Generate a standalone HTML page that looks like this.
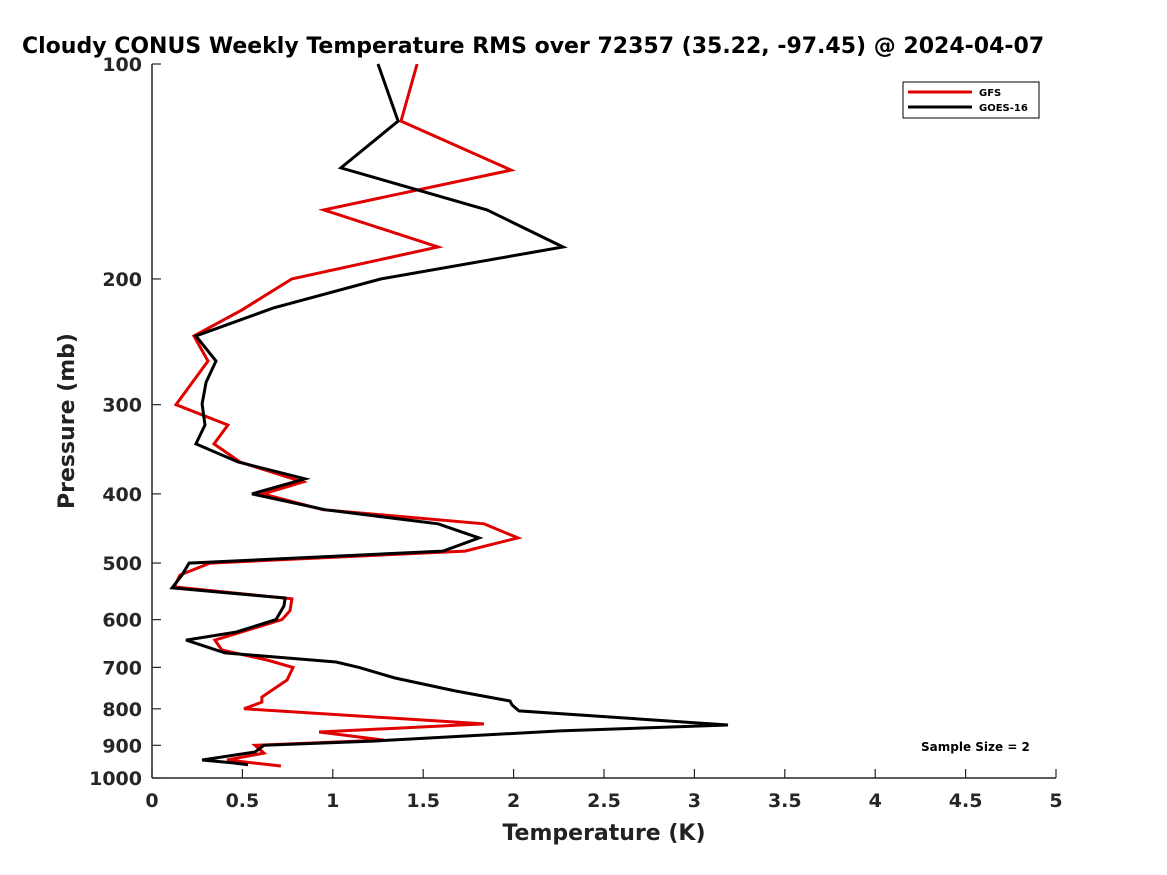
<!DOCTYPE html>
<html><head><meta charset="utf-8"><style>
html,body{margin:0;padding:0;background:#fff;overflow:hidden}
svg{display:block;font-family:"DejaVu Sans","Liberation Sans",sans-serif}
</style></head><body>
<svg id="chart" width="1167" height="875" viewBox="0 0 1167 875" xmlns="http://www.w3.org/2000/svg">
<rect width="1167" height="875" fill="#fff"/>
<text x="22" y="53" font-size="22" font-weight="bold" fill="#000">Cloudy CONUS Weekly Temperature RMS over 72357 (35.22, -97.45) @ 2024-04-07</text>
<g id="axes"></g>
<g id="series"></g>
<g>
<rect x="903" y="82" width="136" height="36" fill="#fff" stroke="#000" stroke-width="1"/>
<line x1="908" y1="92" x2="972" y2="92" stroke="#e00000" stroke-width="3"/>
<text x="979" y="96" font-size="10" font-weight="bold">GFS</text>
<line x1="908" y1="107" x2="972" y2="107" stroke="#000" stroke-width="3"/>
<text x="979" y="111" font-size="10" font-weight="bold">GOES-16</text>
</g>
<text x="921" y="751" font-size="12" font-weight="bold">Sample Size = 2</text>
<text x="604" y="840" font-size="22" font-weight="bold" text-anchor="middle" fill="#222">Temperature (K)</text>
<text transform="translate(74,421) rotate(-90)" font-size="22" font-weight="bold" text-anchor="middle" fill="#222">Pressure (mb)</text>
</svg>
<script>
const xTicks = [0,0.5,1,1.5,2,2.5,3,3.5,4,4.5,5];
const xTickLabels = ["0","0.5","1","1.5","2","2.5","3","3.5","4","4.5","5"];
const yTicks = [100,200,300,400,500,600,700,800,900,1000];
const yTickLabels = ["100","200","300","400","500","600","700","800","900","1000"];
const gfsPressure = [100,120.2,140.8,160.1,180.4,200,221,240.4,260.6,300,320.3,340.5,360.9,385,400,421,440.6,461,481,500,519.6,540,561,583,600,641,662,683.6,700,729,770,783,800,840,862,885,900,922.7,943.6,962];
const gfsTemp = [1.466,1.377,1.986,0.951,1.582,0.774,0.498,0.232,0.310,0.133,0.420,0.343,0.487,0.835,0.614,0.946,1.836,2.024,1.731,0.321,0.155,0.122,0.774,0.763,0.719,0.348,0.387,0.636,0.780,0.747,0.608,0.608,0.509,1.836,0.924,1.283,0.570,0.619,0.415,0.713];
const goesPressure = [100,120.2,139.8,160.1,180.4,200,219.7,240.4,260.6,279,299.3,320.3,340.5,360.9,381,400,421,440.6,461,481,500,519.6,541.7,559.6,574,600,624.6,641,668,688,700,724.4,755,780,790,805.5,843,859,887.7,900,919.6,943.6,952.6,958];
const goesTemp = [1.250,1.361,1.045,1.853,2.273,1.267,0.669,0.243,0.354,0.299,0.277,0.293,0.243,0.476,0.846,0.553,0.957,1.582,1.809,1.609,0.205,0.166,0.111,0.736,0.730,0.686,0.465,0.188,0.404,1.018,1.145,1.344,1.676,1.980,1.991,2.030,3.186,2.257,1.222,0.619,0.570,0.277,0.448,0.531];

const X0=152,X1=1056,Y0=64,Y1=778;
const xs = t => X0 + (t/5)*(X1-X0);
const ys = p => Y0 + Math.log10(p/100)*(Y1-Y0);
const NS="http://www.w3.org/2000/svg";
const axes=document.getElementById('axes');
function mk(tag,attrs,parent){const e=document.createElementNS(NS,tag);for(const k in attrs)e.setAttribute(k,attrs[k]);parent.appendChild(e);return e;}

const yl=mk('line',{x1:X0,y1:Y0,x2:X0,y2:Y1,stroke:'#262626','stroke-width':1.5},axes);


const xl=mk('line',{x1:X0,y1:Y1,x2:X1,y2:Y1,stroke:'#262626','stroke-width':1.5},axes);



xTicks.forEach((t,i)=>{
  const x=xs(t);
  const tk=mk('line',{x1:x,y1:Y1,x2:x,y2:Y1-9,stroke:'#262626','stroke-width':1.2},axes);
  
  
  const tx=mk('text',{x:x,y:807,'font-size':19,'font-weight':'bold','text-anchor':'middle',fill:'#262626'},axes);
  tx.textContent=xTickLabels[i];
  
  
});
yTicks.forEach((p,i)=>{
  const y=ys(p);
  const tk=mk('line',{x1:X0,y1:y,x2:X0+9,y2:y,stroke:'#262626','stroke-width':1.2},axes);
  
  
  const tx=mk('text',{x:142,y:y+7,'font-size':19,'font-weight':'bold','text-anchor':'end',fill:'#262626'},axes);
  tx.textContent=yTickLabels[i];
  
  
});

const series=document.getElementById('series');
function line(P,T){
  return P.map((p,i)=>xs(T[i]).toFixed(1)+','+ys(p).toFixed(1)).join(' ');
}
const g1=mk('polyline',{points:line(gfsPressure,gfsTemp),fill:'none',stroke:'#e00000','stroke-width':3,'stroke-linejoin':'miter'},series);


const g2=mk('polyline',{points:line(goesPressure,goesTemp),fill:'none',stroke:'#000','stroke-width':3,'stroke-linejoin':'miter'},series);


</script>
</body></html>
